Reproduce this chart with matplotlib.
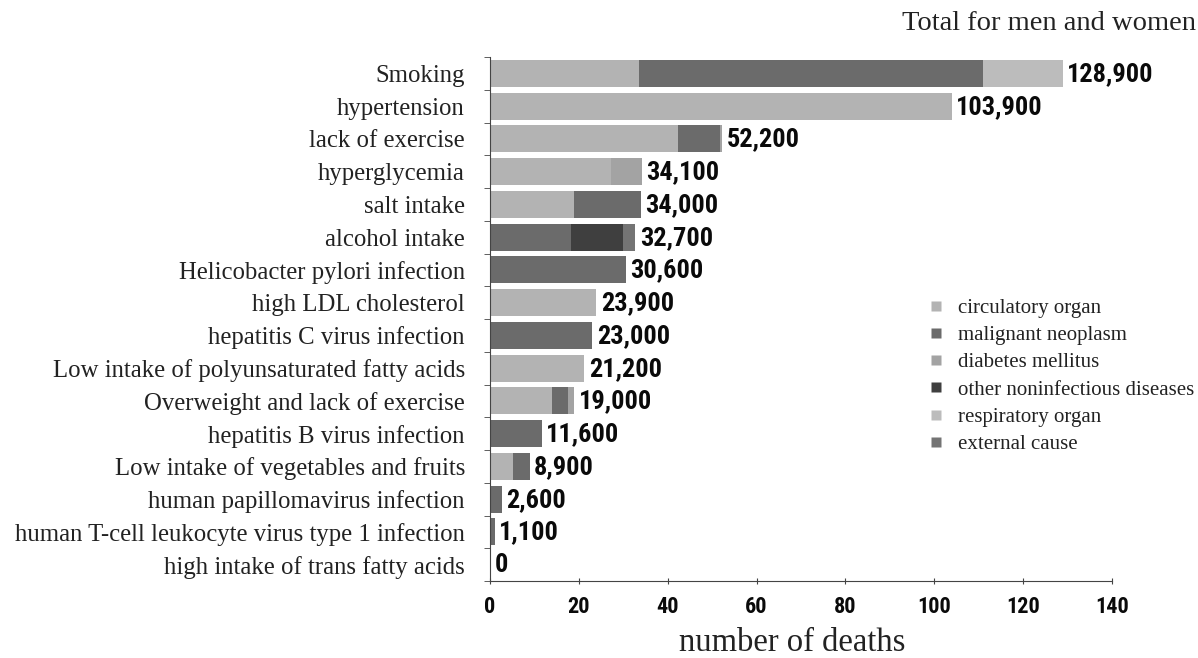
import matplotlib
matplotlib.use("Agg")
import matplotlib.pyplot as plt
from matplotlib import font_manager
from matplotlib.lines import Line2D
import numpy as np

categories = [
    "Smoking", "hypertension", "lack of exercise", "hyperglycemia", "salt intake",
    "alcohol intake", "Helicobacter pylori infection", "high LDL cholesterol",
    "hepatitis C virus infection", "Low intake of polyunsaturated fatty acids",
    "Overweight and lack of exercise", "hepatitis B virus infection",
    "Low intake of vegetables and fruits", "human papillomavirus infection",
    "human T-cell leukocyte virus type 1 infection", "high intake of trans fatty acids",
]
totals = [128.9, 103.9, 52.2, 34.1, 34.0, 32.7, 30.6, 23.9, 23.0, 21.2, 19.0, 11.6, 8.9, 2.6, 1.1, 0.0]
total_labels = ["128,900", "103,900", "52,200", "34,100", "34,000", "32,700", "30,600",
                "23,900", "23,000", "21,200", "19,000", "11,600", "8,900", "2,600", "1,100", "0"]

series_names = ["circulatory organ", "malignant neoplasm", "diabetes mellitus",
                "other noninfectious diseases", "respiratory organ", "external cause"]
circulatory  = [33.6, 103.9, 42.3, 27.2, 19.0, 0.0, 0.0, 23.9, 0.0, 21.2, 13.9, 0.0, 5.1, 0.0, 0.0, 0.0]
malignant    = [77.4, 0.0, 9.5, 0.0, 15.0, 18.3, 30.6, 0.0, 23.0, 0.0, 3.7, 11.6, 3.8, 2.6, 1.1, 0.0]
diabetes     = [0.0, 0.0, 0.4, 6.9, 0.0, 0.0, 0.0, 0.0, 0.0, 0.0, 1.4, 0.0, 0.0, 0.0, 0.0, 0.0]
other_nonin  = [0.0, 0.0, 0.0, 0.0, 0.0, 11.7, 0.0, 0.0, 0.0, 0.0, 0.0, 0.0, 0.0, 0.0, 0.0, 0.0]
respiratory  = [17.9, 0.0, 0.0, 0.0, 0.0, 0.0, 0.0, 0.0, 0.0, 0.0, 0.0, 0.0, 0.0, 0.0, 0.0, 0.0]
external     = [0.0, 0.0, 0.0, 0.0, 0.0, 2.7, 0.0, 0.0, 0.0, 0.0, 0.0, 0.0, 0.0, 0.0, 0.0, 0.0]
series = [circulatory, malignant, diabetes, other_nonin, respiratory, external]
colors = ["#b3b3b3", "#6b6b6b", "#a3a3a3", "#3f3f3f", "#bcbcbc", "#747474"]

xticks = [0, 20, 40, 60, 80, 100, 120, 140]

# pick a bold condensed sans similar to Arial Narrow Bold
bold_names = {f.name for f in font_manager.fontManager.ttflist if f.weight in (700, "bold")}
narrow = "Liberation Sans"
for cand in ["Liberation Sans Narrow", "Arimo Narrow", "Roboto Condensed", "Asap Condensed",
             "Barlow Semi Condensed", "Cabin Condensed"]:
    if cand in bold_names:
        narrow = cand
        break
serif = "Liberation Serif"
dark = "#222222"

fig = plt.figure(figsize=(11.98, 6.58), dpi=100)
ax = fig.add_axes([490/1198, 1-581/658, (1112-490)/1198, (581-57)/658])

y = np.arange(len(categories))
left = np.zeros(len(categories))
for vals, c in zip(series, colors):
    v = np.array(vals)
    ax.barh(y, v, left=left, height=0.82, color=c, edgecolor="none")
    left += v

for yi, t, lab in zip(y, totals, total_labels):
    ax.text(t + 1.0, yi + 0.02, lab, va="center", ha="left", fontsize=19,
            fontweight="bold", family=narrow, color="#0a0a0a")

ax.set_ylim(len(categories) - 0.5, -0.5)
ax.set_xlim(0, 140)
ax.set_xticks(xticks)
ax.set_xticklabels([str(t) for t in xticks], fontsize=16, fontweight="bold", family=narrow,
                   color="#0a0a0a")
ax.set_yticks(y)
ax.set_yticklabels(categories, fontsize=17.8, family=serif, color=dark)
ax.set_yticks(np.arange(len(categories) + 1) - 0.5, minor=True)
ax.tick_params(axis="y", which="major", length=0, pad=18)
ax.tick_params(axis="y", which="minor", length=4, direction="out", color="#444444")
ax.tick_params(axis="x", length=5, direction="inout", color="#444444", pad=8)
for s in ["top", "right"]:
    ax.spines[s].set_visible(False)
ax.spines["left"].set_color("#444444")
ax.spines["bottom"].set_color("#444444")

ax.set_xlabel("number of deaths", fontsize=23.5, family=serif, color=dark)
ax.xaxis.set_label_coords((792 - 490) / 622, -0.088)

fig.text(0.998, 1-24/658, "Total for men and women", ha="right", va="center",
         fontsize=20.5, family=serif, color=dark)

handles = [Line2D([0], [0], marker="s", linestyle="none", markersize=7.5,
                  markerfacecolor=c, markeredgecolor="none") for c in colors]
fig.legend(handles, series_names, loc="upper left", bbox_to_anchor=(917/1198, 1-290/658),
           frameon=False, prop={"family": serif, "size": 15}, handletextpad=0.55,
           labelspacing=0.37, handlelength=1.0, labelcolor=dark, borderaxespad=0)

fig.savefig("out.png", dpi=100)
